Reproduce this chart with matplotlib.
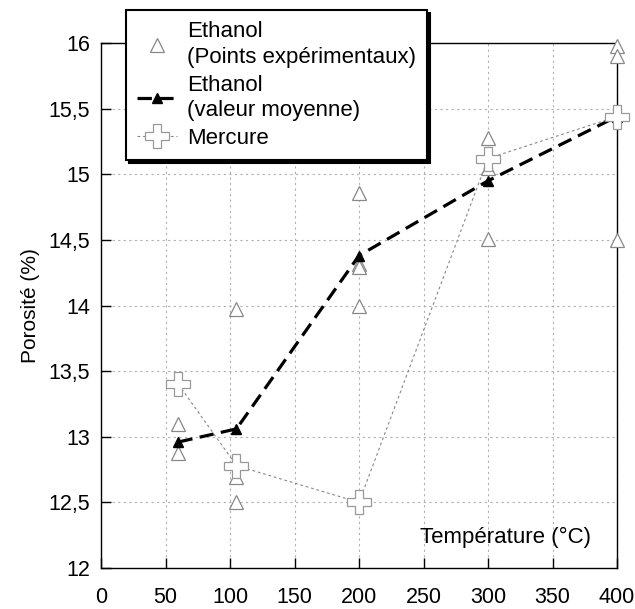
import matplotlib
matplotlib.use("Agg")
import matplotlib.pyplot as plt
from matplotlib.ticker import FuncFormatter

plt.rcParams['font.family'] = ['Liberation Sans', 'DejaVu Sans']

# Data
exp_x = [60, 60, 105, 105, 105, 200, 200, 200, 200, 300, 300, 300, 400, 400, 400]
exp_y = [13.10, 12.88, 13.97, 12.69, 12.50, 14.86, 14.32, 14.29, 14.00, 15.28, 15.05, 14.51, 15.98, 15.90, 14.50]
mean_x = [60, 105, 200, 300, 400]
mean_y = [12.96, 13.06, 14.38, 14.95, 15.44]
merc_x = [60, 105, 200, 300, 400]
merc_y = [13.40, 12.78, 12.50, 15.12, 15.44]
xticks = [0, 50, 100, 150, 200, 250, 300, 350, 400]
yticks = [12, 12.5, 13, 13.5, 14, 14.5, 15, 15.5, 16]

fig = plt.figure(figsize=(6.35, 6.09), dpi=100)
ax = fig.add_axes([101/635, 1-568/609, (617-101)/635, (568-43)/609])

ax.plot(exp_x, exp_y, linestyle='none', marker='^', markersize=10,
        markerfacecolor='white', markeredgecolor='#888888', markeredgewidth=0.9,
        label='Ethanol\n(Points expérimentaux)', zorder=3, clip_on=False)
ax.plot(mean_x, mean_y, linestyle=(0, (4.5, 2.3)), color='black', linewidth=2.3,
        marker='^', markersize=7, markerfacecolor='black', markeredgecolor='black',
        label='Ethanol\n(valeur moyenne)', zorder=4, clip_on=False)
ax.plot(merc_x, merc_y, linestyle=(0, (2.5, 2.5)), color='#888888', linewidth=0.8,
        marker='P', markersize=17, markerfacecolor='white', markeredgecolor='#999999',
        markeredgewidth=0.9, label='Mercure', zorder=5, clip_on=False)

ax.set_xlim(0, 400)
ax.set_ylim(12, 16)
ax.set_xticks(xticks)
ax.set_yticks(yticks)
ax.yaxis.set_major_formatter(FuncFormatter(lambda v, p: ('%g' % v).replace('.', ',')))
ax.tick_params(direction='in', length=7, labelsize=15.5, width=1)
ax.tick_params(axis='x', pad=14)
ax.tick_params(axis='y', pad=8)
ax.grid(True, linestyle=(0, (2, 3)), color='#b0b0b0', linewidth=0.8)
for s in ax.spines.values():
    s.set_linewidth(1.0)
ax.set_ylabel('Porosité (%)', fontsize=15, labelpad=6)
ax.text(0.783, 0.059, 'Température (°C)', transform=ax.transAxes, fontsize=16,
        ha='center', va='center')

leg = ax.legend(loc='upper left', bbox_to_anchor=(0.048, 1.063), fontsize=16,
                frameon=True, fancybox=False, shadow={'color': 'black', 'alpha': 1.0},
                borderpad=0.5, labelspacing=0.3, handlelength=1.8,
                handletextpad=0.45, borderaxespad=0, framealpha=1)
for t in leg.get_texts():
    t.set_linespacing(1.3)
leg.get_frame().set_edgecolor('black')
leg.get_frame().set_linewidth(1.5)
leg.set_zorder(10)

fig.savefig('out.png', dpi=100)
